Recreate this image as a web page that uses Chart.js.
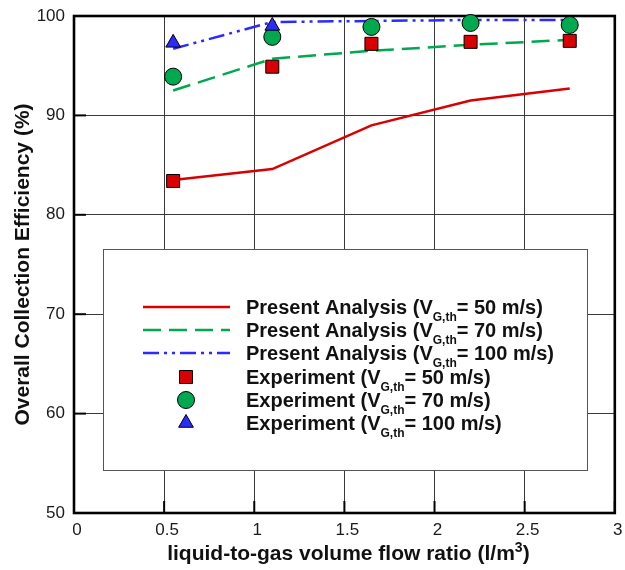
<!DOCTYPE html>
<html>
<head>
<meta charset="utf-8">
<title>Overall Collection Efficiency</title>
<script src="https://cdn.jsdelivr.net/npm/chart.js@4.4.1/dist/chart.umd.min.js"></script>
<style>
  html, body { margin: 0; padding: 0; background: #ffffff; }
  #wrap { position: relative; width: 625px; height: 570px; }
</style>
</head>
<body>
<div id="wrap"><canvas id="chart" width="625" height="570"></canvas></div>
<script>
// Liquid-to-gas volume flow ratio (l/m3) at which the venturi was evaluated
const flowRatio = [0.55, 1.1, 1.65, 2.2, 2.75];

// Present analysis, overall collection efficiency (%) per throat velocity
const analysis50  = [83.5, 84.6, 89.0, 91.5, 92.7];
const analysis70  = [92.5, 95.7, 96.5, 97.1, 97.6];
const analysis100 = [96.7, 99.4, 99.5, 99.6, 99.6];

// Experimental measurements (%)
const experiment50  = [83.4, 94.9, 97.2, 97.4, 97.5];
const experiment70  = [93.9, 97.9, 98.9, 99.3, 99.1];
const experiment100Ratio = [0.55, 1.1];
const experiment100 = [97.3, 99.0];

// Axis ticks
const xTickValues = [0, 0.5, 1, 1.5, 2, 2.5, 3];
const yTickValues = [50, 60, 70, 80, 90, 100];

// Legend wording: name + throat velocity
const seriesNames  = ['Present Analysis', 'Present Analysis', 'Present Analysis', 'Experiment', 'Experiment', 'Experiment'];
const seriesSpeeds = ['50 m/s', '70 m/s', '100 m/s', '50 m/s', '70 m/s', '100 m/s'];

const RED = '#d80000';
const GREEN = '#00a84f';
const BLUE = '#2b2bff';
const FONT = '"Liberation Sans", Arial, Helvetica, sans-serif';

const toPoints = (xs, ys) => xs.map((x, i) => ({ x: x, y: ys[i] }));

const lineBase = { showLine: true, pointRadius: 0, pointHoverRadius: 0, borderWidth: 2.5, fill: false, tension: 0, clip: false };
const markBase = { showLine: false, borderColor: '#000000', pointBorderWidth: 1, clip: false };

const datasets = [
  Object.assign({}, lineBase, { label: seriesNames[0], data: toPoints(flowRatio, analysis50),  borderColor: RED,   order: 6 }),
  Object.assign({}, lineBase, { label: seriesNames[1], data: toPoints(flowRatio, analysis70),  borderColor: GREEN, borderDash: [18, 8], order: 5 }),
  Object.assign({}, lineBase, { label: seriesNames[2], data: toPoints(flowRatio, analysis100), borderColor: BLUE,  borderDash: [16, 5, 3, 5, 3, 5], order: 4 }),
  Object.assign({}, markBase, { label: seriesNames[3], data: toPoints(flowRatio, experiment50),  pointStyle: 'rect',     pointRadius: 9.2, pointBackgroundColor: RED,   pointBorderColor: '#000', order: 3 }),
  Object.assign({}, markBase, { label: seriesNames[4], data: toPoints(flowRatio, experiment70),  pointStyle: 'circle',   pointRadius: 8.5, pointBackgroundColor: GREEN, pointBorderColor: '#000', order: 2 }),
  Object.assign({}, markBase, { label: seriesNames[5], data: toPoints(experiment100Ratio, experiment100), pointStyle: 'triangle', pointRadius: 8.5, pointBackgroundColor: BLUE, pointBorderColor: '#000', order: 1 })
];

// Marker shapes for the legend, same geometry as the chart's point styles
function drawMarker(ctx, style, x, y, r, fill) {
  ctx.save();
  ctx.beginPath();
  if (style === 'rect') {
    const s = Math.SQRT1_2 * r;
    ctx.rect(x - s, y - s, 2 * s, 2 * s);
  } else if (style === 'circle') {
    ctx.arc(x, y, r, 0, Math.PI * 2);
  } else if (style === 'triangle') {
    let a = 0;
    ctx.moveTo(x + Math.sin(a) * r, y - Math.cos(a) * r);
    a += Math.PI * 2 / 3;
    ctx.lineTo(x + Math.sin(a) * r, y - Math.cos(a) * r);
    a += Math.PI * 2 / 3;
    ctx.lineTo(x + Math.sin(a) * r, y - Math.cos(a) * r);
    ctx.closePath();
  }
  ctx.fillStyle = fill;
  ctx.fill();
  ctx.lineWidth = 1;
  ctx.strokeStyle = '#000';
  ctx.stroke();
  ctx.restore();
}

// Text run made of [text, fontSize, baselineShift] parts
function drawRuns(ctx, runs, x, baseline, align) {
  let total = 0;
  runs.forEach(r => { ctx.font = 'bold ' + r[1] + 'px ' + FONT; total += ctx.measureText(r[0]).width; });
  let cx = align === 'center' ? x - total / 2 : x;
  ctx.textAlign = 'left';
  ctx.textBaseline = 'alphabetic';
  runs.forEach(r => {
    ctx.font = 'bold ' + r[1] + 'px ' + FONT;
    ctx.fillText(r[0], cx, baseline + r[2]);
    cx += ctx.measureText(r[0]).width;
  });
}

const framePlugin = {
  id: 'frame',
  beforeDatasetsDraw(chart) {
    const { ctx, chartArea: a, scales } = chart;
    ctx.save();
    ctx.strokeStyle = '#000';
    ctx.lineWidth = 2;
    // inward tick marks on the left and bottom axes
    yTickValues.forEach(v => {
      const py = scales.y.getPixelForValue(v);
      ctx.beginPath(); ctx.moveTo(a.left, py); ctx.lineTo(a.left + 12, py); ctx.stroke();
    });
    xTickValues.forEach(v => {
      const px = scales.x.getPixelForValue(v);
      ctx.beginPath(); ctx.moveTo(px, a.bottom); ctx.lineTo(px, a.bottom - 12); ctx.stroke();
    });
    ctx.lineWidth = 2.6;
    ctx.strokeRect(a.left, a.top, a.right - a.left, a.bottom - a.top);
    ctx.restore();
  },
  afterDatasetsDraw(chart) {
    const ctx = chart.ctx;
    const box = { x: 103, y: 249, w: 484, h: 221 };
    ctx.save();
    ctx.fillStyle = '#ffffff';
    ctx.fillRect(box.x, box.y, box.w, box.h);
    ctx.strokeStyle = '#555555';
    ctx.lineWidth = 1;
    ctx.strokeRect(box.x + 0.5, box.y + 0.5, box.w, box.h);

    const rowY = [307, 330, 353, 377, 400, 423];
    chart.data.datasets.forEach((ds, i) => {
      const y = rowY[i];
      if (ds.showLine) {
        ctx.save();
        ctx.strokeStyle = ds.borderColor;
        ctx.lineWidth = ds.borderWidth;
        ctx.setLineDash(ds.borderDash || []);
        ctx.beginPath(); ctx.moveTo(143, y); ctx.lineTo(230, y); ctx.stroke();
        ctx.restore();
      } else {
        drawMarker(ctx, ds.pointStyle, 186, y, ds.pointRadius, ds.pointBackgroundColor);
      }
      ctx.fillStyle = '#111111';
      drawRuns(ctx, [[ds.label + ' (V', 20, 0], ['G,th', 12, 7], ['= ' + seriesSpeeds[i] + ')', 20, 0]], 246, y + 7, 'left');
    });

    // axis titles
    ctx.fillStyle = '#111111';
    const a = chart.chartArea;
    drawRuns(ctx, [['liquid-to-gas volume flow ratio (l/m', 21, 0], ['3', 14, -8], [')', 21, 0]], (a.left + a.right) / 2 + 4, 560, 'center');
    ctx.save();
    ctx.translate(29, (a.top + a.bottom) / 2);
    ctx.rotate(-Math.PI / 2);
    drawRuns(ctx, [['Overall Collection Efficiency (%)', 21, 0]], 0, 0, 'center');
    ctx.restore();
    ctx.restore();
  }
};

new Chart(document.getElementById('chart'), {
  type: 'scatter',
  data: { datasets: datasets },
  options: {
    responsive: false,
    animation: false,
    devicePixelRatio: 1,
    layout: { padding: { left: 0, top: 16, right: 8, bottom: 0 } },
    plugins: { legend: { display: false }, tooltip: { enabled: false } },
    scales: {
      x: {
        type: 'linear', min: 0, max: 3,
        afterBuildTicks: s => { s.ticks = xTickValues.map(v => ({ value: v })); },
        afterFit: s => { s.height = 57; s.paddingLeft = 0; s.paddingRight = 0; },
        ticks: { callback: v => String(v), color: '#1a1a1a', font: { family: FONT, size: 17 }, padding: 7, labelOffset: 3, maxRotation: 0, autoSkip: false },
        grid: { color: '#3a3a3a', lineWidth: 1, drawTicks: false },
        border: { display: false }
      },
      y: {
        type: 'linear', min: 50, max: 100,
        afterBuildTicks: s => { s.ticks = yTickValues.map(v => ({ value: v })); },
        afterFit: s => { s.width = 74; s.paddingTop = 0; s.paddingBottom = 0; },
        ticks: { callback: v => String(v), color: '#1a1a1a', font: { family: FONT, size: 17 }, padding: 9 },
        grid: { color: '#3a3a3a', lineWidth: 1, drawTicks: false },
        border: { display: false }
      }
    }
  },
  plugins: [framePlugin]
});
</script>
</body>
</html>
